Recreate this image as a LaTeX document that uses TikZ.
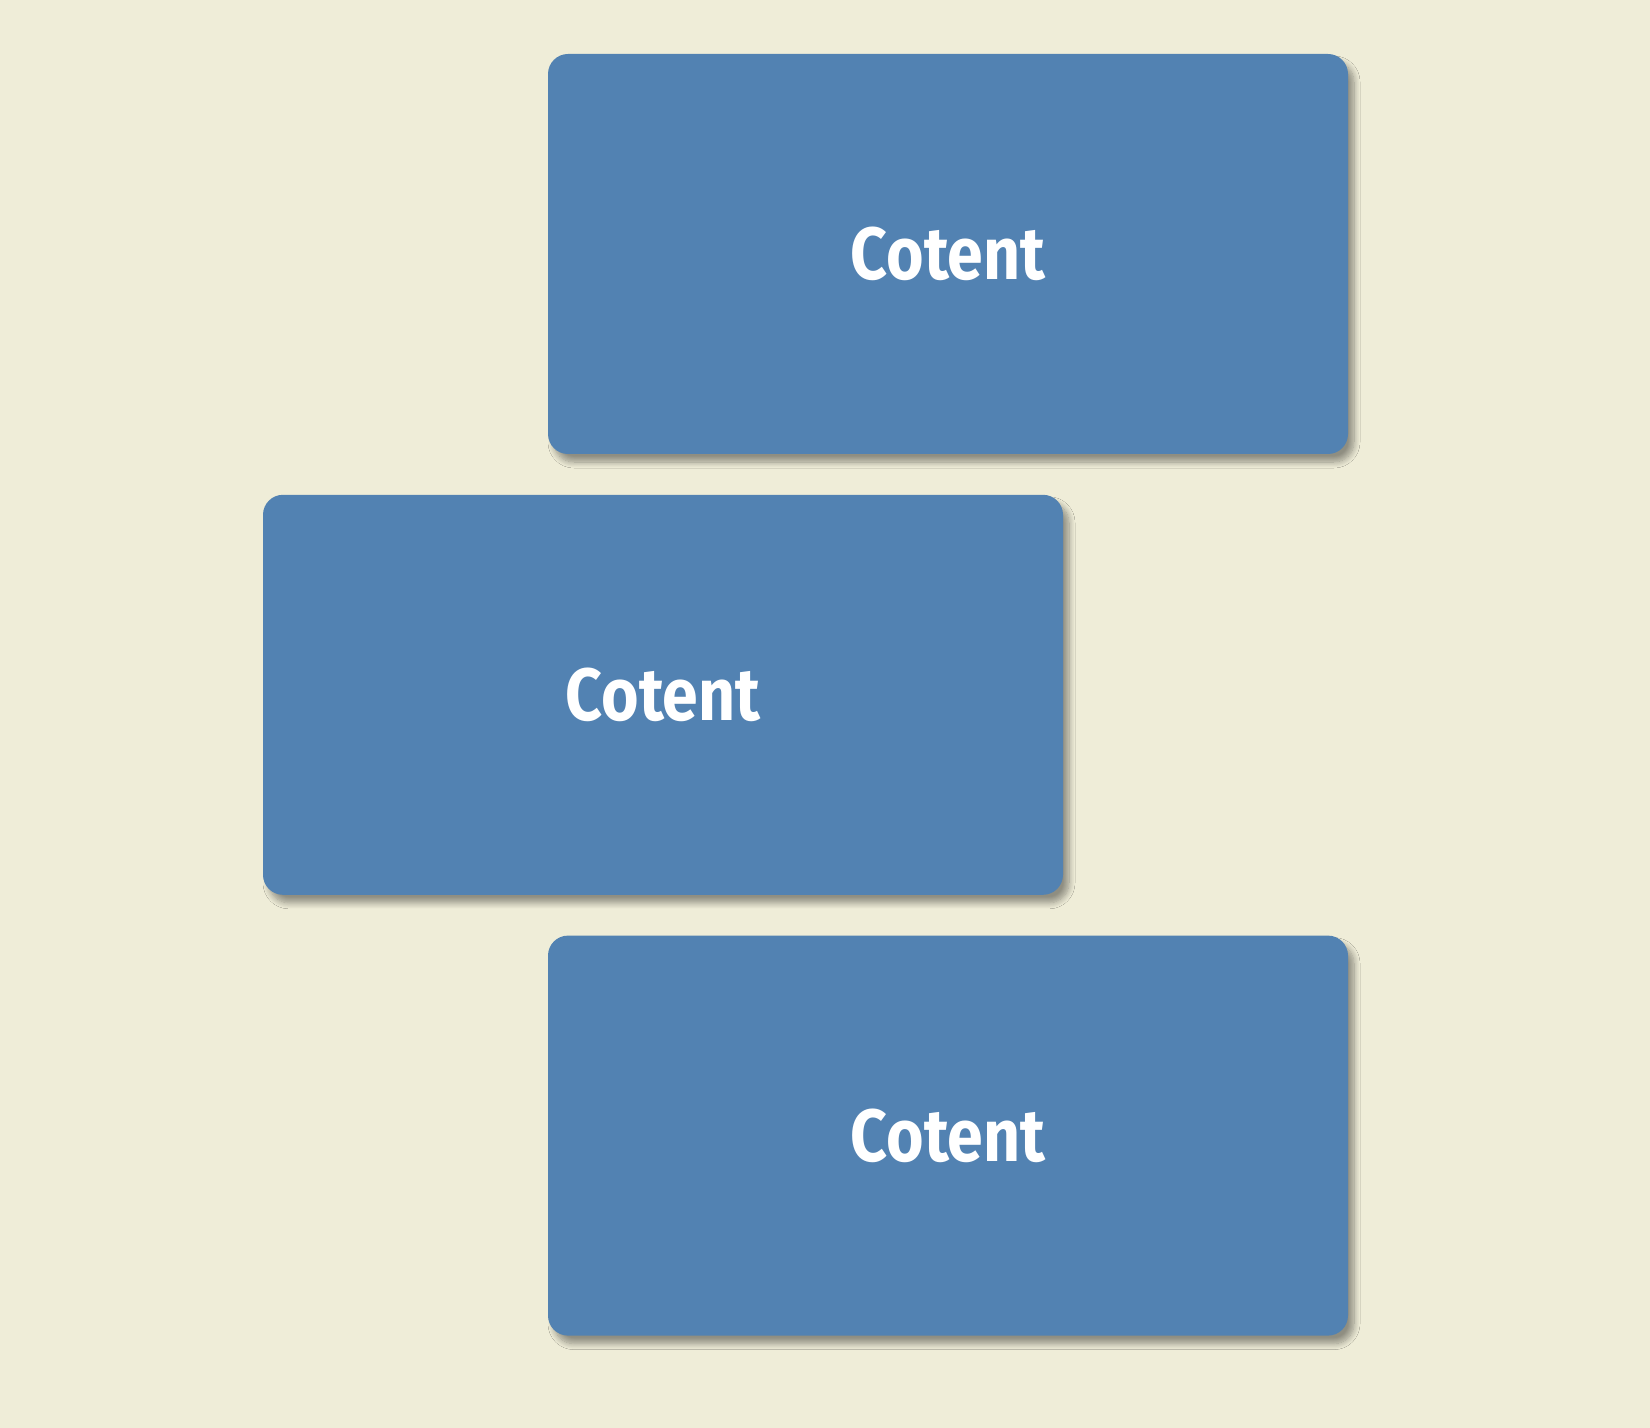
\documentclass[tikz,border=0pt]{standalone}
\usepackage{fontspec}
\setsansfont[FakeStretch=0.87]{Fira Sans}
\usepackage{tikz}
\usetikzlibrary{positioning,shadows.blur}
\definecolor{paper}{HTML}{EFEDD8}
\definecolor{cardblue}{HTML}{5282B2}

\begin{document}
\begin{tikzpicture}
	[card/.style={rectangle, rounded corners=10pt, fill=cardblue, draw=none,
		minimum width=400pt, minimum height=200pt, inner sep=0pt,
		text=white, font=\sffamily\bfseries\fontsize{37}{40}\selectfont,
		blur shadow={shadow xshift=3pt, shadow yshift=-4pt, shadow blur radius=3pt, shadow blur steps=10, shadow opacity=40}}]
	\fill[paper] (0pt,0pt) rectangle (825pt,-714pt);
	\useasboundingbox (0pt,0pt) rectangle (825pt,-714pt);
	\node[card] (top) at (474pt,-127pt) {Cotent};
	\node[card, below=20pt of top, xshift=-142.5pt] (middle) {Cotent};
	\node[card, below=20pt of middle, xshift=142.5pt] (bottom) {Cotent};
\end{tikzpicture}
\end{document}
